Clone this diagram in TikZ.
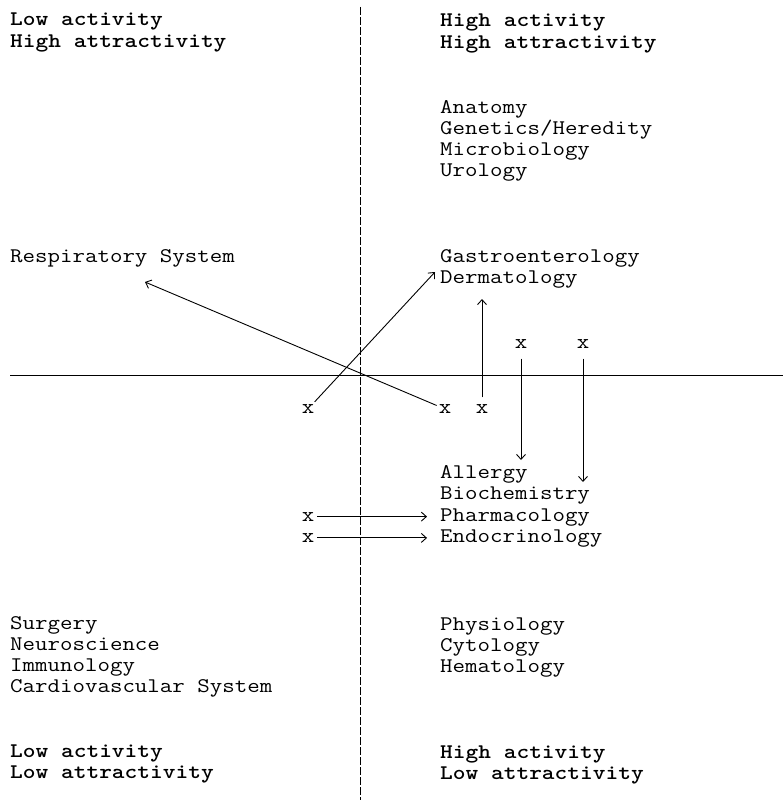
\documentclass[tikz,border=0pt]{standalone}
\usepackage{fontspec}
\usepackage{graphicx}
\usetikzlibrary{arrows.meta}
\newcommand\qlines[1]{\scalebox{1.165}[1]{\vtop{\lineskiplimit=-100pt\lineskip=0pt\baselineskip=21.3pt #1}}}
\newcommand\hstr[1]{\scalebox{1.165}[1]{#1}}
\begin{document}
\begin{tikzpicture}[x=1pt,y=-1pt,
  txt/.style={anchor=base west,inner sep=0pt,font=\ttfamily\fontsize{20.8}{21.3}\selectfont},
  hdr/.style={anchor=base west,inner sep=0pt,font=\ttfamily\bfseries\fontsize{20.8}{21.3}\selectfont},
  xmk/.style={anchor=base,inner sep=1pt,font=\ttfamily\fontsize{20.8}{21.3}\selectfont},
  arr/.style={line width=0.9pt,-{Straight Barb[length=5pt,width=9pt]}},
  haxis/.style={line width=1pt},
  vaxis/.style={line width=0.8pt,dash pattern=on 8pt off 2pt}
]
\useasboundingbox (0,0) rectangle (783,800);
% axes
\coordinate (vtop) at (360,7);
\coordinate (vbot) at (360,800);
\coordinate (hl) at (10,375);
\coordinate (hr) at (783,375);
\draw[vaxis] (vtop) -- (vbot);
\draw[haxis] (hl) -- (hr);
% quadrant headers
\node[hdr] (tl) at (10,26) {\qlines{\hbox{Low activity}\hbox{High attractivity}}};
\node[hdr] (tr) at (440,27) {\qlines{\hbox{High activity}\hbox{High attractivity}}};
\node[hdr] (bl) at (10,757) {\qlines{\hbox{Low activity}\hbox{Low attractivity}}};
\node[hdr] (br) at (440,758) {\qlines{\hbox{High activity}\hbox{Low attractivity}}};
% quadrant contents
\node[txt] (an) at (440,113) {\qlines{\hbox{Anatomy}\hbox{Genetics/Heredity}\hbox{Microbiology}\hbox{Urology}}};
\node[txt] (re) at (10,262) {\hstr{Respiratory System}};
\node[txt] (ga) at (440,262) {\qlines{\hbox{Gastroenterology}\hbox{Dermatology}}};
\node[txt] (al) at (440,478.5) {\qlines{\hbox{Allergy}\hbox{Biochemistry}\hbox{Pharmacology}\hbox{Endocrinology}}};
\node[txt] (su) at (10,629) {\qlines{\hbox{Surgery}\hbox{Neuroscience}\hbox{Immunology}\hbox{Cardiovascular System}}};
\node[txt] (py) at (440,630) {\qlines{\hbox{Physiology}\hbox{Cytology}\hbox{Hematology}}};
% x marks
\node[xmk] (xa) at (308,413.5) {\hstr{x}};
\node[xmk] (xb) at (445,413.5) {\hstr{x}};
\node[xmk] (xc) at (482,413.5) {\hstr{x}};
\node[xmk] (xd) at (521,348.5) {\hstr{x}};
\node[xmk] (xe) at (583,348.5) {\hstr{x}};
\node[xmk] (xf) at (308,521.1) {\hstr{x}};
\node[xmk] (xg) at (308,542.4) {\hstr{x}};
% arrow ends
\coordinate (respTip) at (145,282);
\coordinate (gasTip) at (435,272);
\coordinate (upTip) at (482,299);
\coordinate (downTipD) at (521,460);
\coordinate (downTipE) at (583,482);
% arrows
\draw[arr,shorten <=1pt] (xb) -- (respTip);
\draw[arr,shorten <=2pt] (xa) -- (gasTip);
\draw[arr,shorten <=6pt] (xc) -- (upTip);
\draw[arr,shorten <=9pt] (xd) -- (downTipD);
\draw[arr,shorten <=9pt] (xe) -- (downTipE);
\draw[arr,shorten <=2pt,shorten >=13pt] (xf) -- (xf -| al.west);
\draw[arr,shorten <=2pt,shorten >=13pt] (xg) -- (xg -| al.west);
\end{tikzpicture}
\end{document}
